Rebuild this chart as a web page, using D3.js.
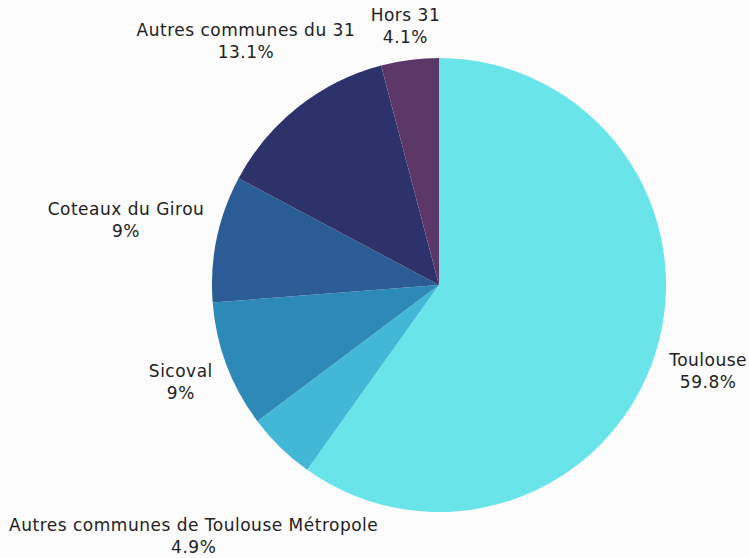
<!DOCTYPE html>
<html>
<head>
<meta charset="utf-8">
<script src="https://cdn.jsdelivr.net/npm/d3@7"></script>
<style>
  body { margin: 0; background: #fcfcfc; }
  svg { display: block; }
  text { font-family: "DejaVu Sans", sans-serif; fill: #222; letter-spacing: 0.5px; }
</style>
</head>
<body>
<script>
const categories = ["Toulouse", "Autres communes de Toulouse Métropole", "Sicoval", "Coteaux du Girou", "Autres communes du 31", "Hors 31"];
const values = [59.8, 4.9, 9, 9, 13.1, 4.1];
const colors = ["#69e4e9", "#42b7d6", "#2d8ab8", "#2c5c96", "#2e326b", "#5b3768"];

const width = 749, height = 558;
const cx = 439, cy = 285, radius = 227;
const labelGap = 12;
const lineH = 22;

const data = categories.map((c, i) => ({ name: c, value: values[i], color: colors[i] }));

const svg = d3.select("body").append("svg")
  .attr("width", width)
  .attr("height", height);

const g = svg.append("g")
  .attr("transform", `translate(${cx}, ${cy})`);

const pie = d3.pie()
  .value(d => d.value)
  .sort(null);

const arc = d3.arc()
  .innerRadius(0)
  .outerRadius(radius);

const arcs = pie(data);

g.selectAll("path.slice")
  .data(arcs)
  .enter()
  .append("path")
  .attr("class", "slice")
  .attr("d", arc)
  .attr("fill", d => d.data.color);

// distance from origin to a box centred at (x, y)
const boxDist = (x, y, w, h) => {
  const dx = Math.max(Math.abs(x) - w / 2, 0);
  const dy = Math.max(Math.abs(y) - h / 2, 0);
  return Math.sqrt(dx * dx + dy * dy);
};

const labels = g.selectAll("g.label")
  .data(arcs)
  .enter()
  .append("g")
  .attr("class", "label");

labels.append("text")
  .attr("text-anchor", "middle")
  .attr("font-size", 17)
  .selectAll("tspan")
  .data(d => [d.data.name, d.data.value + "%"])
  .enter()
  .append("tspan")
  .attr("x", 0)
  .attr("y", (d, i) => (i - 0.5) * lineH)
  .attr("dy", "0.35em")
  .text(d => d);

labels.each(function(d) {
  const bb = this.getBBox();
  const w = bb.width, h = lineH * 2 - 4;
  const a = (d.startAngle + d.endAngle) / 2;
  const ux = Math.sin(a), uy = -Math.cos(a);
  // push the label out along the mid angle until it clears the pie
  let lo = 0, hi = 1000;
  for (let k = 0; k < 40; k++) {
    const t = (lo + hi) / 2;
    if (boxDist(t * ux, t * uy, w, h) < radius + labelGap) lo = t; else hi = t;
  }
  d3.select(this).attr("transform", `translate(${hi * ux}, ${hi * uy})`);
});
</script>
</body>
</html>
